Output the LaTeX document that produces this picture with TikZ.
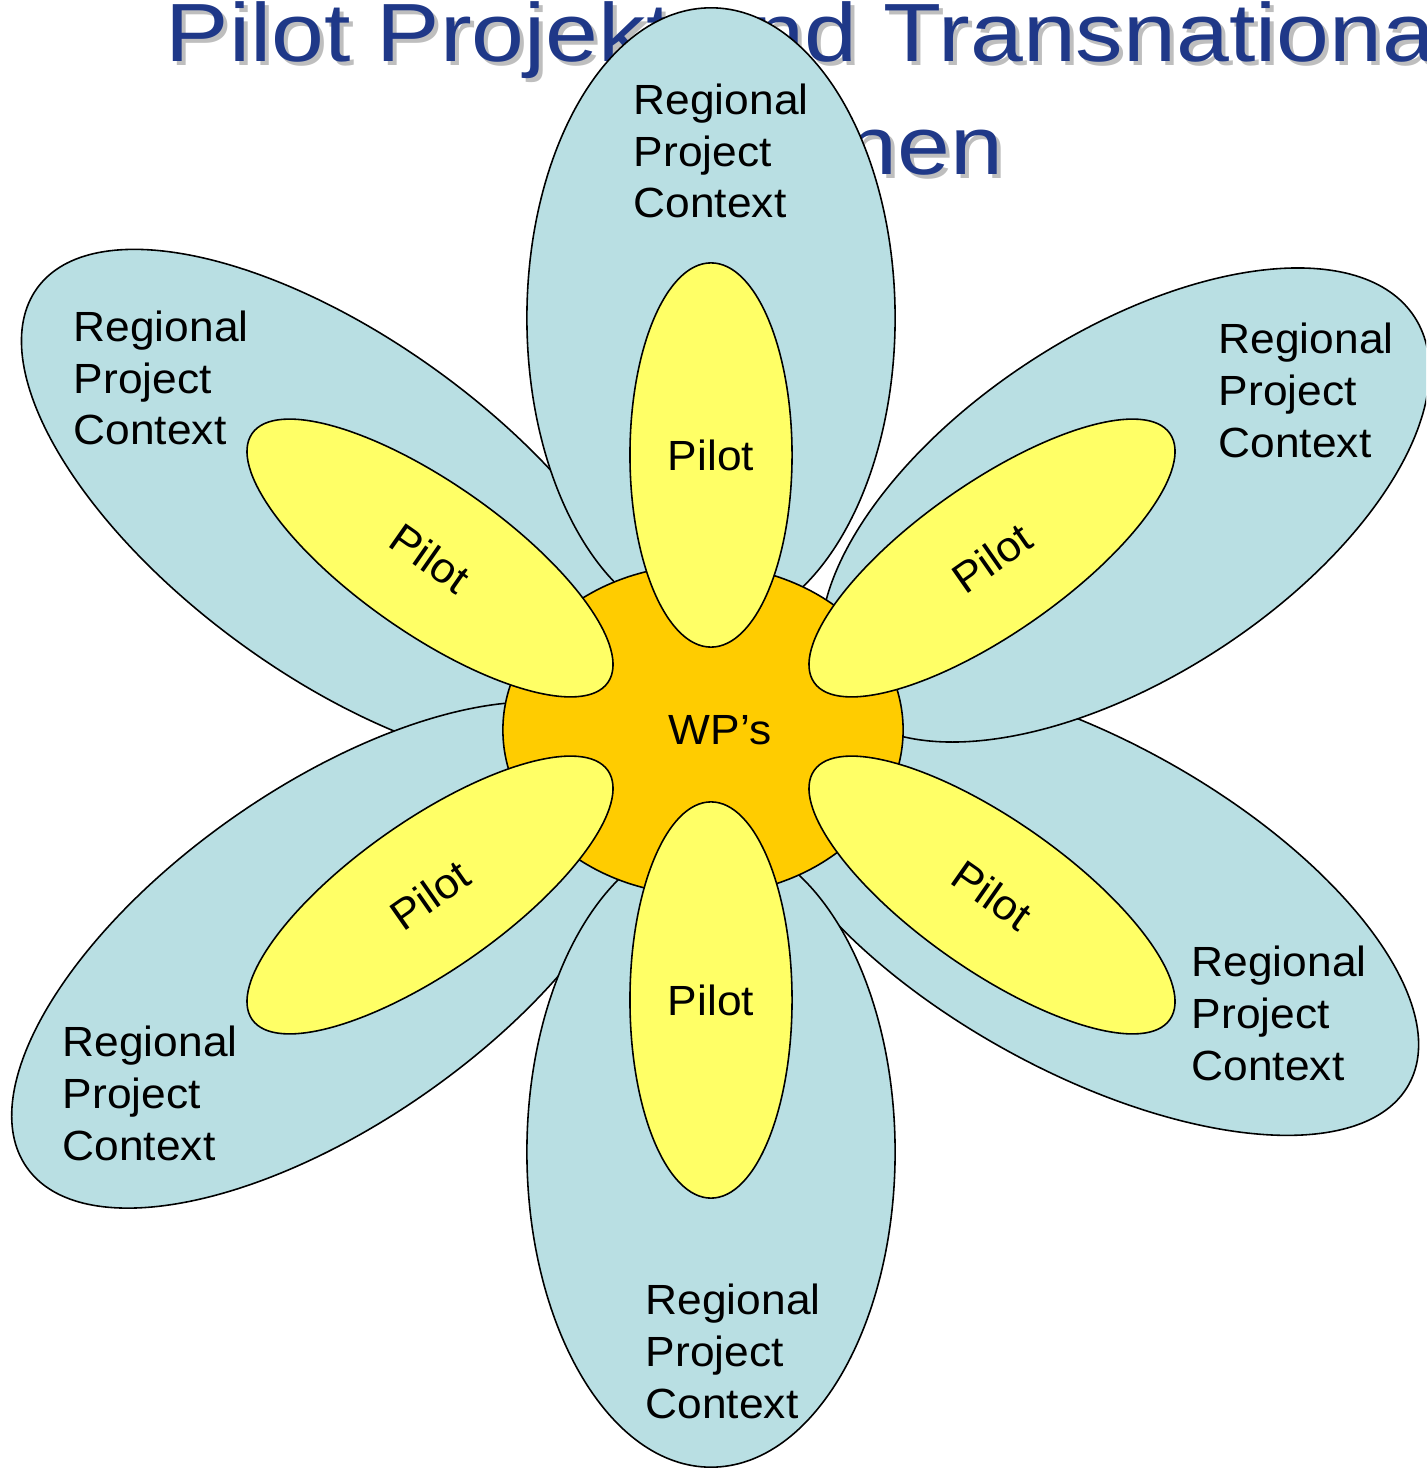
\documentclass[tikz,border=0pt]{standalone}
\usepackage{fontspec}
\setmainfont{Liberation Sans}
\newfontfamily\petalfont[FakeStretch=1.05]{Liberation Sans}
\newfontfamily\titlefont[FakeStretch=1.15]{Liberation Sans}
\usetikzlibrary{shapes.geometric}

\definecolor{contextblue}{RGB}{185,223,227}
\definecolor{pilotyellow}{RGB}{255,255,102}
\definecolor{wporange}{RGB}{255,204,0}
\definecolor{titleblue}{RGB}{31,56,136}
\definecolor{titleshadow}{RGB}{190,190,190}

\tikzset{
  petal/.style={ellipse, draw=black, line width=0.45pt, inner sep=0pt},
  context/.style={petal, fill=contextblue},
  pilot/.style={petal, fill=pilotyellow, minimum width=4.34cm, minimum height=1.5cm,
    font=\petalfont\fontsize{12pt}{14.7pt}\selectfont},
  pilotup/.style={petal, fill=pilotyellow, minimum width=1.62cm,
    font=\petalfont\fontsize{12pt}{14.7pt}\selectfont},
  ctxtext/.style={anchor=base west, align=left, inner sep=0pt,
    font=\petalfont\fontsize{12pt}{14.7pt}\selectfont},
  headline/.style={inner sep=0pt, font=\titlefont\fontsize{23.5pt}{28pt}\selectfont}
}

\begin{document}
\begin{tikzpicture}[x=0.01cm,y=-0.01cm]
  \useasboundingbox (0,0) rectangle (1426,1470);
  \clip (0,0) rectangle (1426,1470);

  \node[headline, anchor=base west, text=titleshadow] (titleoneshadow) at (169,66) {Pilot Projekt und Transnationale};
  \node[headline, anchor=base east, text=titleshadow] (titletwoshadow) at (1008,179) {Aktionen};
  \node[headline, anchor=base west, text=titleblue] (titleone) at (165,62) {Pilot Projekt und Transnationale};
  \node[headline, anchor=base east, text=titleblue] (titletwo) at (1004,175) {Aktionen};

  \node[context, minimum width=7.4cm, minimum height=3.3cm, rotate=-29] (ctxlr) at (1085,905) {};
  \node[context, minimum width=6.9cm, minimum height=3.44cm, rotate=33] (ctxur) at (1125,505) {};
  \node[context, minimum width=7.48cm, minimum height=3.36cm, rotate=-36] (ctxul) at (340,508) {};
  \node[context, minimum width=7.4cm, minimum height=3.36cm, rotate=35] (ctxll) at (330,955) {};
  \node[context, minimum width=3.68cm, minimum height=6.2cm] (ctxt) at (711,318) {};
  \node[context, minimum width=3.68cm, minimum height=6.3cm] (ctxb) at (711,1152) {};

  \node[petal, fill=wporange, minimum width=4cm, minimum height=3.3cm] (wp) at (703,730) {};
  \node[ctxtext, anchor=center] (wplabel) at (720,730) {WP’s};

  \node[pilotup, minimum height=3.84cm] (pilt) at (711,455) {Pilot};
  \node[pilotup, minimum height=3.96cm] (pilb) at (711,1000) {Pilot};
  \node[pilot, rotate=-35] (pilul) at (430,558) {Pilot};
  \node[pilot, rotate=35] (pilur) at (992,558) {Pilot};
  \node[pilot, rotate=-35] (pillr) at (992,895) {Pilot};
  \node[pilot, rotate=35] (pilll) at (430,895) {Pilot};

  \node[ctxtext] (ctxttext) at (633,218) {Regional\\Project\\Context};
  \node[ctxtext] (ctxultext) at (73,445) {Regional\\Project\\Context};
  \node[ctxtext] (ctxurtext) at (1218,457) {Regional\\Project\\Context};
  \node[ctxtext] (ctxlrtext) at (1191,1080) {Regional\\Project\\Context};
  \node[ctxtext] (ctxlltext) at (62,1160) {Regional\\Project\\Context};
  \node[ctxtext] (ctxbtext) at (645,1418) {Regional\\Project\\Context};
\end{tikzpicture}
\end{document}
